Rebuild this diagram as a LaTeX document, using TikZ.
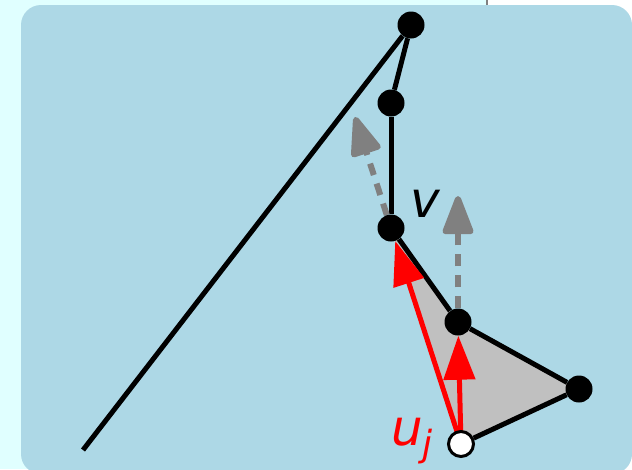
\documentclass[tikz,border=0pt]{standalone}
\usepackage{fontspec}
\setmainfont{DejaVu Sans}
\usetikzlibrary{arrows.meta}
\pgfdeclarelayer{bg}
\pgfsetlayers{bg,main}
\definecolor{panelblue}{HTML}{ADD8E6}
\definecolor{pagecyan}{HTML}{E0FFFF}
\definecolor{silverfill}{HTML}{C0C0C0}
\definecolor{arrowgray}{HTML}{808080}
\begin{document}
\begin{tikzpicture}[x=1pt,y=-1pt,
  dot/.style={circle,fill=black,inner sep=0pt,minimum size=27pt},
  hollow/.style={circle,fill=white,draw=black,line width=3pt,inner sep=0pt,minimum size=25pt},
  edge/.style={line width=5pt,black},
  redarrow/.style={line width=5pt,red,-{Triangle[length=44pt,width=31pt]}},
  grayarrow/.style={line width=6pt,arrowgray,dash pattern=on 12pt off 9pt,-{Triangle[length=44pt,width=32pt,round]}},
  lab/.style={font=\fontsize{50}{50}\selectfont\itshape,inner sep=0pt}]
\useasboundingbox (0,0) rectangle (632,469);
% nodes
\node[dot] (A) at (411,25) {};
\node[dot] (B) at (391,103) {};
\node[dot] (C) at (391,228) {};
\node[dot] (D) at (458,322) {};
\node[dot] (E) at (579,389) {};
\node[hollow] (U) at (461,444) {};
\coordinate (L) at (83,450);
\coordinate (G1) at (355,117);
\coordinate (G2) at (458,196);
\node[lab,anchor=center] (vlab) at (425,204) {v};
\node[lab,anchor=base west,text=red] (ulab) at (391,445) {u\raisebox{-11pt}{\fontsize{36}{36}\selectfont j}};
\begin{pgfonlayer}{bg}
\fill[pagecyan] (0,0) rectangle (487,469);
\fill[white] (487,0) rectangle (632,469);
\fill[arrowgray] (486,0) rectangle (488,6);
\fill[panelblue,rounded corners=20pt] (21,5) rectangle (632,474);
\fill[silverfill] (C.center) -- (D.center) -- (E.center) -- (U.center) -- cycle;
\draw[edge] (L) -- (A);
\draw[edge] (A) -- (B);
\draw[edge] (B) -- (C);
\draw[edge] (C) -- (D);
\draw[edge] (D) -- (E);
\draw[edge] (E) -- (U);
\draw[grayarrow] (C) -- (G1);
\draw[grayarrow] (D) -- (G2);
\draw[redarrow] (U.center) -- (C);
\draw[redarrow] (U.center) -- (D);
\end{pgfonlayer}
\end{tikzpicture}
\end{document}
